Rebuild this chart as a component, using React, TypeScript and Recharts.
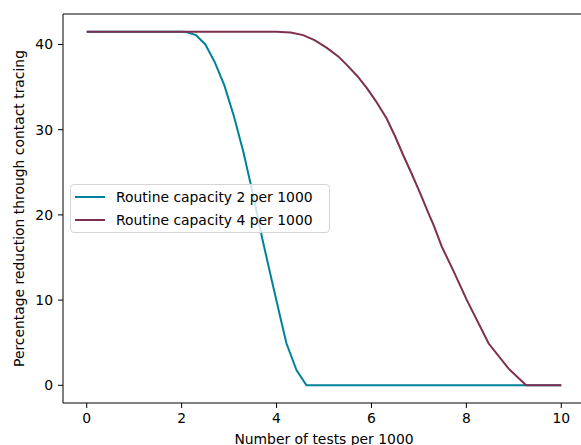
import { LineChart, Line, XAxis, YAxis, ReferenceLine, Legend } from 'recharts'

// tests per 1000 (x) and percentage reduction (y)
const testsCap2 = [0, 0.5, 1, 1.5, 2.0, 2.1, 2.3, 2.5, 2.7, 2.9, 3.1, 3.3, 3.5, 3.7, 3.9, 4.1, 4.21, 4.42, 4.63, 5, 6, 7, 8, 9, 10]
const reductionCap2 = [41.5, 41.5, 41.5, 41.5, 41.5, 41.45, 41.1, 40.0, 37.9, 35.2, 31.6, 27.4, 22.5, 17.2, 12.3, 7.5, 4.9, 1.8, 0, 0, 0, 0, 0, 0, 0]

const testsCap4 = [0, 1, 2, 3, 4.0, 4.3, 4.56, 4.8, 5.06, 5.3, 5.48, 5.7, 5.9, 6.1, 6.32, 6.5, 6.67, 6.85, 7.03, 7.2, 7.31, 7.48, 7.73, 8.01, 8.47, 8.89, 9.26, 9.5, 10]
const reductionCap4 = [41.5, 41.5, 41.5, 41.5, 41.5, 41.4, 41.1, 40.5, 39.6, 38.6, 37.6, 36.3, 34.9, 33.3, 31.3, 29.2, 27.0, 24.8, 22.5, 20.2, 18.8, 16.3, 13.4, 10.0, 4.9, 1.96, 0, 0, 0]

const xTicks = [0, 2, 4, 6, 8, 10]
const yTicks = [0, 10, 20, 30, 40]
const seriesNames = ['Routine capacity 2 per 1000', 'Routine capacity 4 per 1000']
const seriesColors = ['#00819a', '#7e2f50']

const FONT = 'DejaVu Sans'
const Y_MIN = -2.075
const Y_MAX = 43.575

function toPoints(xs: number[], ys: number[]) {
  return xs.map((x, i) => ({ x, y: ys[i] }))
}

function LegendBox() {
  return (
    <div
      style={{
        width: 260,
        height: 49,
        boxSizing: 'border-box',
        background: 'rgba(255,255,255,0.8)',
        border: '1px solid #d4d4d4',
        borderRadius: 4,
        fontFamily: FONT,
      }}
    >
      {seriesNames.map((name, i) => (
        <div key={name} style={{ display: 'flex', alignItems: 'center', height: 23 }}>
          <div style={{ width: 30, height: 2, background: seriesColors[i], marginLeft: 4, marginRight: 11 }} />
          <span style={{ fontSize: 13.9, color: '#000', whiteSpace: 'nowrap' }}>{name}</span>
        </div>
      ))}
    </div>
  )
}

export default function App() {
  const tick = { fontFamily: FONT, fontSize: 13.9, fill: '#000' }
  const series = [toPoints(testsCap2, reductionCap2), toPoints(testsCap4, reductionCap4)]

  return (
    <div style={{ position: 'absolute', left: 0, top: 0, width: 581, height: 445, overflow: 'hidden', background: '#fff' }}>
      <LineChart width={600} height={445} margin={{ top: 14, right: 15, bottom: 0, left: 0 }}>
        <XAxis
          dataKey="x"
          type="number"
          domain={[-0.5, 10.5]}
          ticks={xTicks}
          allowDataOverflow
          height={42}
          tick={tick}
          tickSize={5}
          tickMargin={5}
          stroke="#000"
          label={{ value: 'Number of tests per 1000', position: 'insideBottom', offset: 1, style: { ...tick } }}
        />
        <YAxis
          type="number"
          domain={[Y_MIN, Y_MAX]}
          ticks={yTicks}
          allowDataOverflow
          width={63}
          tick={tick}
          tickSize={5}
          tickMargin={5}
          stroke="#000"
          label={{
            value: 'Percentage reduction through contact tracing',
            angle: -90,
            position: 'insideLeft',
            offset: 19,
            style: { ...tick, textAnchor: 'middle' },
          }}
        />
        <ReferenceLine y={Y_MAX} stroke="#000" strokeWidth={1} />
        {series.map((pts, i) => (
          <Line
            key={seriesNames[i]}
            data={pts}
            dataKey="y"
            name={seriesNames[i]}
            type="linear"
            stroke={seriesColors[i]}
            strokeWidth={2}
            dot={false}
            isAnimationActive={false}
          />
        ))}
        <Legend
          layout="vertical"
          align="center"
          verticalAlign="middle"
          content={<LegendBox />}
          wrapperStyle={{ left: 70, top: 184, width: 260, height: 49 }}
        />
      </LineChart>
    </div>
  )
}
